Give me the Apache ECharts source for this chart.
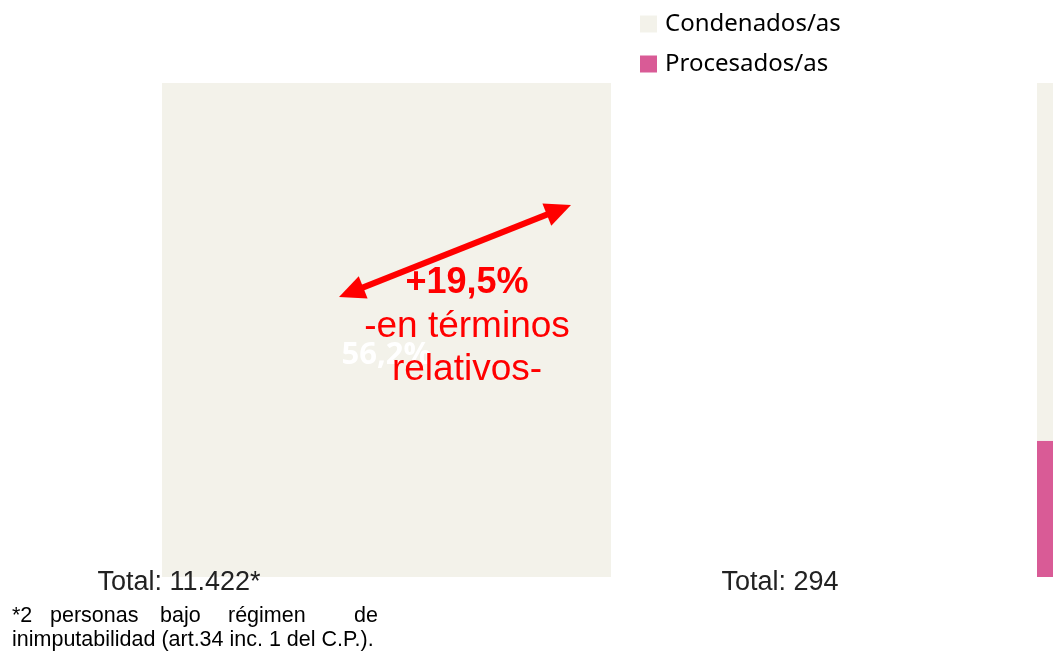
<!DOCTYPE html>
<html>
<head>
<meta charset="utf-8">
<script src="https://cdn.jsdelivr.net/npm/echarts@6/dist/echarts.min.js"></script>
<style>
  html, body { margin: 0; padding: 0; background: #fff; }
  #chart { width: 1053px; height: 654px; }
</style>
</head>
<body>
<div id="chart"></div>
<script>
    // datos (porcentajes apilados)
    let categorias = ['Periodo 1', 'Periodo 2'];
    let procesados = [0, 27.6];
    let condenados = [100, 72.4];
    let etiquetasCondenados = ['56,2%', ''];
    let totales = ['Total: 11.422*', 'Total: 294'];

    let crema = '#F3F2EA';
    let rosa = '#D95B96';

    // flecha doble
    function flecha(x1, y1, x2, y2) {
        let dx = x2 - x1, dy = y2 - y1;
        let len = Math.sqrt(dx * dx + dy * dy);
        let ux = dx / len, uy = dy / len;
        let px = -uy, py = ux;
        let L = 26, W = 12;
        function cabeza(tx, ty, sx, sy) {
            return [[tx, ty],
                [tx + sx * L + px * W, ty + sy * L + py * W],
                [tx + sx * L - px * W, ty + sy * L - py * W]];
        }
        return [
            {type: 'line', shape: {x1: x1 + ux * 20, y1: y1 + uy * 20, x2: x2 - ux * 20, y2: y2 - uy * 20},
                style: {stroke: '#FF0000', lineWidth: 6}, z: 100},
            {type: 'polygon', shape: {points: cabeza(x1, y1, ux, uy)}, style: {fill: '#FF0000'}, z: 100},
            {type: 'polygon', shape: {points: cabeza(x2, y2, -ux, -uy)}, style: {fill: '#FF0000'}, z: 100}
        ];
    }

    let myChart = echarts.init(document.getElementById('chart'));
    let textoRojo = {fill: '#FF0000', font: '37px "Liberation Sans", Arial', textAlign: 'center', textVerticalAlign: 'middle'};
    let nota = {fill: '#000', font: '21.5px "Liberation Sans", Arial', textVerticalAlign: 'middle'};
    let total = {fill: '#222', font: '27px "Liberation Sans", Arial', textAlign: 'center', textVerticalAlign: 'middle'};
    let option = {
        animation: false,
        legend: {
            data: ['Condenados/as', 'Procesados/as'],
            orient: 'vertical',
            left: 640,
            top: 12,
            padding: 0,
            itemWidth: 17,
            itemHeight: 17,
            itemGap: 16,
            icon: 'rect',
            textStyle: {fontFamily: '"Noto Sans"', fontSize: 24, color: '#000', padding: [0, 0, 0, 3]}
        },
        grid: {left: -51, width: 1750, top: 83, bottom: 77, outerBoundsMode: 'none', containLabel: false},
        xAxis: {type: 'category', data: categorias, show: false},
        yAxis: {type: 'value', min: 0, max: 100, show: false},
        series: [
            {
                name: 'Procesados/as', type: 'bar', stack: 'total', barWidth: 449,
                itemStyle: {color: rosa}, data: procesados
            },
            {
                name: 'Condenados/as', type: 'bar', stack: 'total', barWidth: 449,
                itemStyle: {color: crema}, data: condenados,
                label: {
                    show: true, position: 'inside', offset: [0, 25],
                    color: '#fff', fontFamily: '"Open Sans"', fontWeight: 'bold', fontSize: 31,
                    formatter: function (p) { return etiquetasCondenados[p.dataIndex]; }
                }
            }
        ],
        graphic: [
            {type: 'text', x: 179, y: 583, z: 100, style: Object.assign({text: totales[0]}, total)},
            {type: 'text', x: 780, y: 583, z: 100, style: Object.assign({text: totales[1]}, total)},
            {type: 'text', x: 12, y: 616, style: Object.assign({text: '*2'}, nota)},
            {type: 'text', x: 50, y: 616, style: Object.assign({text: 'personas'}, nota)},
            {type: 'text', x: 160, y: 616, style: Object.assign({text: 'bajo'}, nota)},
            {type: 'text', x: 228, y: 616, style: Object.assign({text: 'régimen'}, nota)},
            {type: 'text', x: 378, y: 616, style: Object.assign({}, nota, {text: 'de', textAlign: 'right'})},
            {type: 'text', x: 12, y: 640, style: Object.assign({text: 'inimputabilidad (art.34 inc. 1 del C.P.).'}, nota)},
            {type: 'text', x: 467, y: 283, z: 100, style: Object.assign({}, textoRojo, {text: '+19,5%', font: 'bold 36px "Liberation Sans", Arial'})},
            {type: 'text', x: 467, y: 327, z: 100, style: Object.assign({}, textoRojo, {text: '-en términos'})},
            {type: 'text', x: 467, y: 370, z: 100, style: Object.assign({}, textoRojo, {text: 'relativos-'})}
        ].concat(flecha(339, 297, 571, 205))
    };
    myChart.setOption(option);
</script>
</body>
</html>
